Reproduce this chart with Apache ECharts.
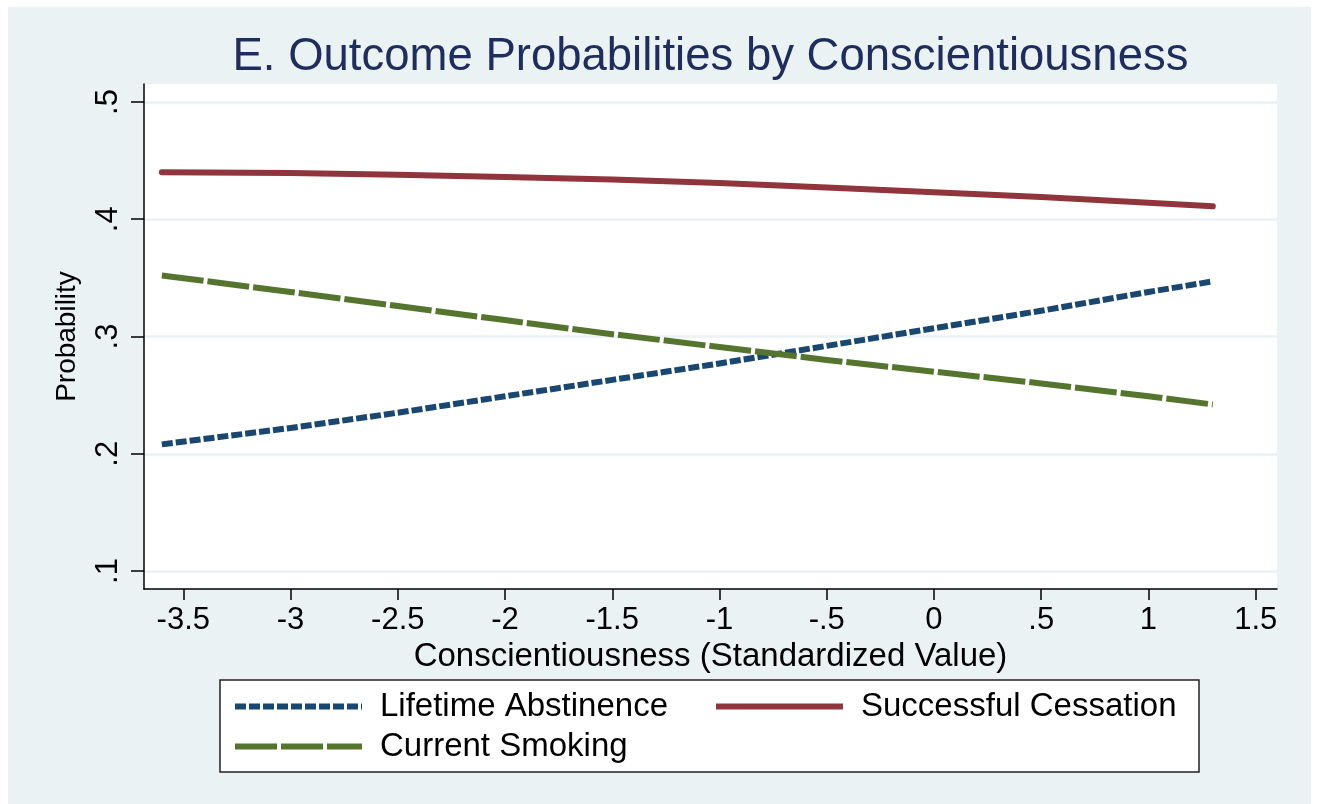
<!DOCTYPE html>
<html>
<head>
<meta charset="utf-8">
<title>Outcome Probabilities by Conscientiousness</title>
<script src="https://cdn.jsdelivr.net/npm/echarts@6/dist/echarts.min.js"></script>
<style>
  html, body { margin: 0; padding: 0; background: #ffffff; }
  #panel { position: absolute; left: 8px; top: 7px; width: 1303px; height: 797px; background: #eaf2f3; }
  #chart { position: absolute; left: 0; top: 0; width: 1318px; height: 804px; }
</style>
</head>
<body>
<div id="panel"></div>
<div id="chart"></div>
<script>
// Predicted probabilities of each smoking outcome across conscientiousness
const conscientiousness   = [-3.6, -3, -2.5, -2, -1.5, -1, -0.5, 0, 0.5, 1, 1.3];
const lifetimeAbstinence  = [0.208, 0.222, 0.235, 0.249, 0.263, 0.277, 0.292, 0.307, 0.322, 0.338, 0.347];
const successfulCessation = [0.440, 0.4395, 0.438, 0.436, 0.434, 0.431, 0.427, 0.423, 0.419, 0.414, 0.411];
const currentSmoking      = [0.352, 0.338, 0.326, 0.314, 0.302, 0.291, 0.280, 0.270, 0.260, 0.249, 0.242];

const xTicks      = [-3.5, -3, -2.5, -2, -1.5, -1, -0.5, 0, 0.5, 1, 1.5];
const xTickLabels = ['-3.5', '-3', '-2.5', '-2', '-1.5', '-1', '-.5', '0', '.5', '1', '1.5'];
const yTicks      = [0.1, 0.2, 0.3, 0.4, 0.5];
const yTickLabels = ['.1', '.2', '.3', '.4', '.5'];

const seriesNames = ['Lifetime Abstinence', 'Successful Cessation', 'Current Smoking'];

function pairs(ys) { return conscientiousness.map((x, i) => [x, ys[i]]); }
function tickLabel(ticks, labels) {
  return function (v) {
    for (let i = 0; i < ticks.length; i++) {
      if (Math.abs(ticks[i] - v) < 1e-9) return labels[i];
    }
    return '';
  };
}

const FONT = '"Liberation Sans", Arial, sans-serif';

// shared look of the legend entries
const legendCommon = {
  itemWidth: 127, itemHeight: 14,
  itemGap: 7,
  selectedMode: false,
  itemStyle: { opacity: 0 },
  lineStyle: { width: 6, cap: 'butt' },
  textStyle: { fontFamily: FONT, fontSize: 33, color: '#000', padding: [0, 0, 0, 13] }
};

const chart = echarts.init(document.getElementById('chart'), null, { renderer: 'canvas' });

chart.setOption({
  backgroundColor: 'transparent',
  animation: false,
  textStyle: { fontFamily: FONT },
  title: {
    text: 'E. Outcome Probabilities by Conscientiousness',
    left: 710.5,
    textAlign: 'center',
    top: 34,
    padding: 0,
    textStyle: { fontFamily: FONT, fontSize: 45.5, fontWeight: 'normal', color: '#1e2d5c' }
  },
  grid: {
    left: 144, right: 41, top: 84, bottom: 215,
    show: true, backgroundColor: '#ffffff', borderWidth: 0
  },
  xAxis: {
    type: 'value',
    min: -3.6832, max: 1.5993,
    name: 'Conscientiousness (Standardized Value)',
    nameLocation: 'middle',
    nameGap: 45,
    nameTextStyle: { fontFamily: FONT, fontSize: 33, color: '#000' },
    axisLine: { show: true, onZero: false, lineStyle: { color: '#000', width: 1.5 } },
    axisTick: { show: true, length: 11, customValues: xTicks, lineStyle: { color: '#000', width: 1.5 } },
    axisLabel: {
      customValues: xTicks, margin: 16,
      fontFamily: FONT, fontSize: 31, color: '#000',
      formatter: tickLabel(xTicks, xTickLabels)
    },
    splitLine: { show: false }
  },
  yAxis: {
    type: 'value',
    min: 0.08465, max: 0.51535,
    name: 'Probability',
    nameLocation: 'middle',
    nameGap: 63,
    nameRotate: 90,
    nameTextStyle: { fontFamily: FONT, fontSize: 28, color: '#000' },
    axisLine: { show: true, onZero: false, lineStyle: { color: '#000', width: 1.5 } },
    axisTick: { show: true, length: 13, customValues: yTicks, lineStyle: { color: '#000', width: 1.5 } },
    axisLabel: {
      customValues: yTicks, margin: 20, rotate: 90,
      fontFamily: FONT, fontSize: 31, color: '#000',
      formatter: tickLabel(yTicks, yTickLabels)
    },
    splitLine: { show: true, lineStyle: { color: '#eaf2f3', width: 2.5 } }
  },
  legend: [
    // left column, carrying the framed box
    Object.assign({}, legendCommon, {
      data: [seriesNames[0], seriesNames[2]],
      orient: 'vertical',
      left: 220, top: 680,
      padding: [10, 531, 9, 12],
      backgroundColor: '#ffffff',
      borderColor: '#222222', borderWidth: 1.5, borderRadius: 0
    }),
    // right column, first row
    Object.assign({}, legendCommon, {
      data: [seriesNames[1]],
      orient: 'vertical',
      left: 713, top: 680,
      padding: [10, 0, 0, 0],
      z: 5
    })
  ],
  series: [
    {
      name: seriesNames[0], type: 'line', data: pairs(lifetimeAbstinence),
      showSymbol: false, symbol: 'none', color: '#1a476f',
      lineStyle: { color: '#1a476f', width: 6, type: [11, 3], cap: 'butt', join: 'round' }
    },
    {
      name: seriesNames[1], type: 'line', data: pairs(successfulCessation),
      showSymbol: false, symbol: 'none', color: '#90353b',
      lineStyle: { color: '#90353b', width: 6, type: 'solid', cap: 'round', join: 'round' }
    },
    {
      name: seriesNames[2], type: 'line', data: pairs(currentSmoking),
      showSymbol: false, symbol: 'none', color: '#55752f',
      lineStyle: { color: '#55752f', width: 6, type: [42, 4], cap: 'butt', join: 'round' }
    }
  ]
});
</script>
</body>
</html>
